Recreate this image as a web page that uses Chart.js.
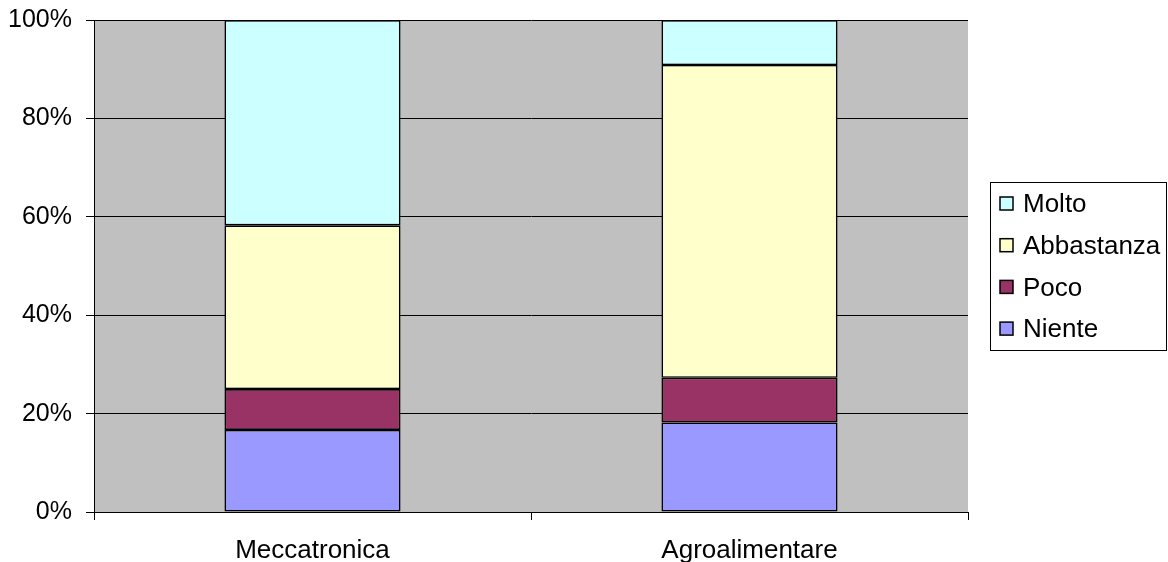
<!DOCTYPE html>
<html><head><meta charset="utf-8">
<script src="https://cdn.jsdelivr.net/npm/chart.js@4/dist/chart.umd.min.js"></script>
<style>html,body{margin:0;padding:0;background:#fff}#wrap{width:1168px;height:562px}</style>
</head><body><div id="wrap"><canvas id="c" width="1168" height="562"></canvas></div>
<script>
const categories = ["Meccatronica", "Agroalimentare"];
const niente = [16.7, 18.2];
const poco = [8.3, 9.1];
const abbastanza = [33.3, 63.6];
const molto = [41.7, 9.1];
const yTicks = [0, 20, 40, 60, 80, 100];

const FONT = "'Liberation Sans', Arial, sans-serif";

const bgPlugin = {
  id: 'bg',
  beforeDraw(chart) {
    const {ctx, chartArea: a} = chart;
    ctx.save();
    ctx.fillStyle = '#fff';
    ctx.fillRect(0, 0, chart.width, chart.height);
    ctx.fillStyle = '#C0C0C0';
    ctx.fillRect(a.left, a.top, a.right - a.left, a.bottom - a.top);
    ctx.restore();
  }
};

const legendPlugin = {
  id: 'customLegend',
  afterDraw(chart) {
    const ctx = chart.ctx;
    ctx.save();
    ctx.strokeStyle = '#000';
    ctx.lineWidth = 1;
    ctx.strokeRect(990.5, 182.5, 176, 168);
    const items = chart.data.datasets.slice().reverse();
    ctx.font = '26px ' + FONT;
    ctx.textBaseline = 'middle';
    items.forEach((ds, i) => {
      const y = 204 + i * 41.7;
      ctx.fillStyle = ds.backgroundColor;
      ctx.fillRect(1000, y - 7, 13, 13);
      ctx.lineWidth = 1.5;
      ctx.strokeStyle = '#000';
      ctx.strokeRect(1000, y - 7, 13, 13);
      ctx.fillStyle = '#000';
      ctx.fillText(ds.label, 1023, y + 1);
    });
    ctx.restore();
  }
};

function ds(label, data, color) {
  return { label, data, backgroundColor: color, borderColor: '#000', borderWidth: 1.6,
           borderSkipped: false, categoryPercentage: 1, barPercentage: 0.403 };
}

new Chart(document.getElementById('c'), {
  type: 'bar',
  data: {
    labels: categories,
    datasets: [
      ds('Niente', niente, '#9999FF'),
      ds('Poco', poco, '#993366'),
      ds('Abbastanza', abbastanza, '#FFFFCC'),
      ds('Molto', molto, '#CCFFFF')
    ]
  },
  options: {
    responsive: false,
    animation: false,
    layout: { padding: { top: 20, right: 200, left: 0, bottom: 0 } },
    plugins: { legend: { display: false }, tooltip: { enabled: false } },
    scales: {
      x: {
        stacked: true,
        grid: { display: true, offset: true, drawOnChartArea: false, drawTicks: true, tickLength: 8, color: '#000', lineWidth: 1 },
        border: { display: true, color: '#000', width: 1 },
        ticks: { color: '#000', font: { family: FONT, size: 26 }, padding: 15 },
        afterFit(s) { s.height = 50; }
      },
      y: {
        stacked: true,
        min: 0, max: 100,
        afterBuildTicks(s) { s.ticks = yTicks.map(v => ({ value: v })); },
        grid: { color: '#000', lineWidth: 1, tickLength: 8 },
        border: { display: true, color: '#000', width: 1 },
        ticks: { color: '#000', font: { family: FONT, size: 25, lineHeight: 0.5 }, padding: 14, callback: v => v + '%' },
        afterFit(s) { s.width = 94; }
      }
    }
  },
  plugins: [bgPlugin, legendPlugin]
});
</script>
</body></html>
